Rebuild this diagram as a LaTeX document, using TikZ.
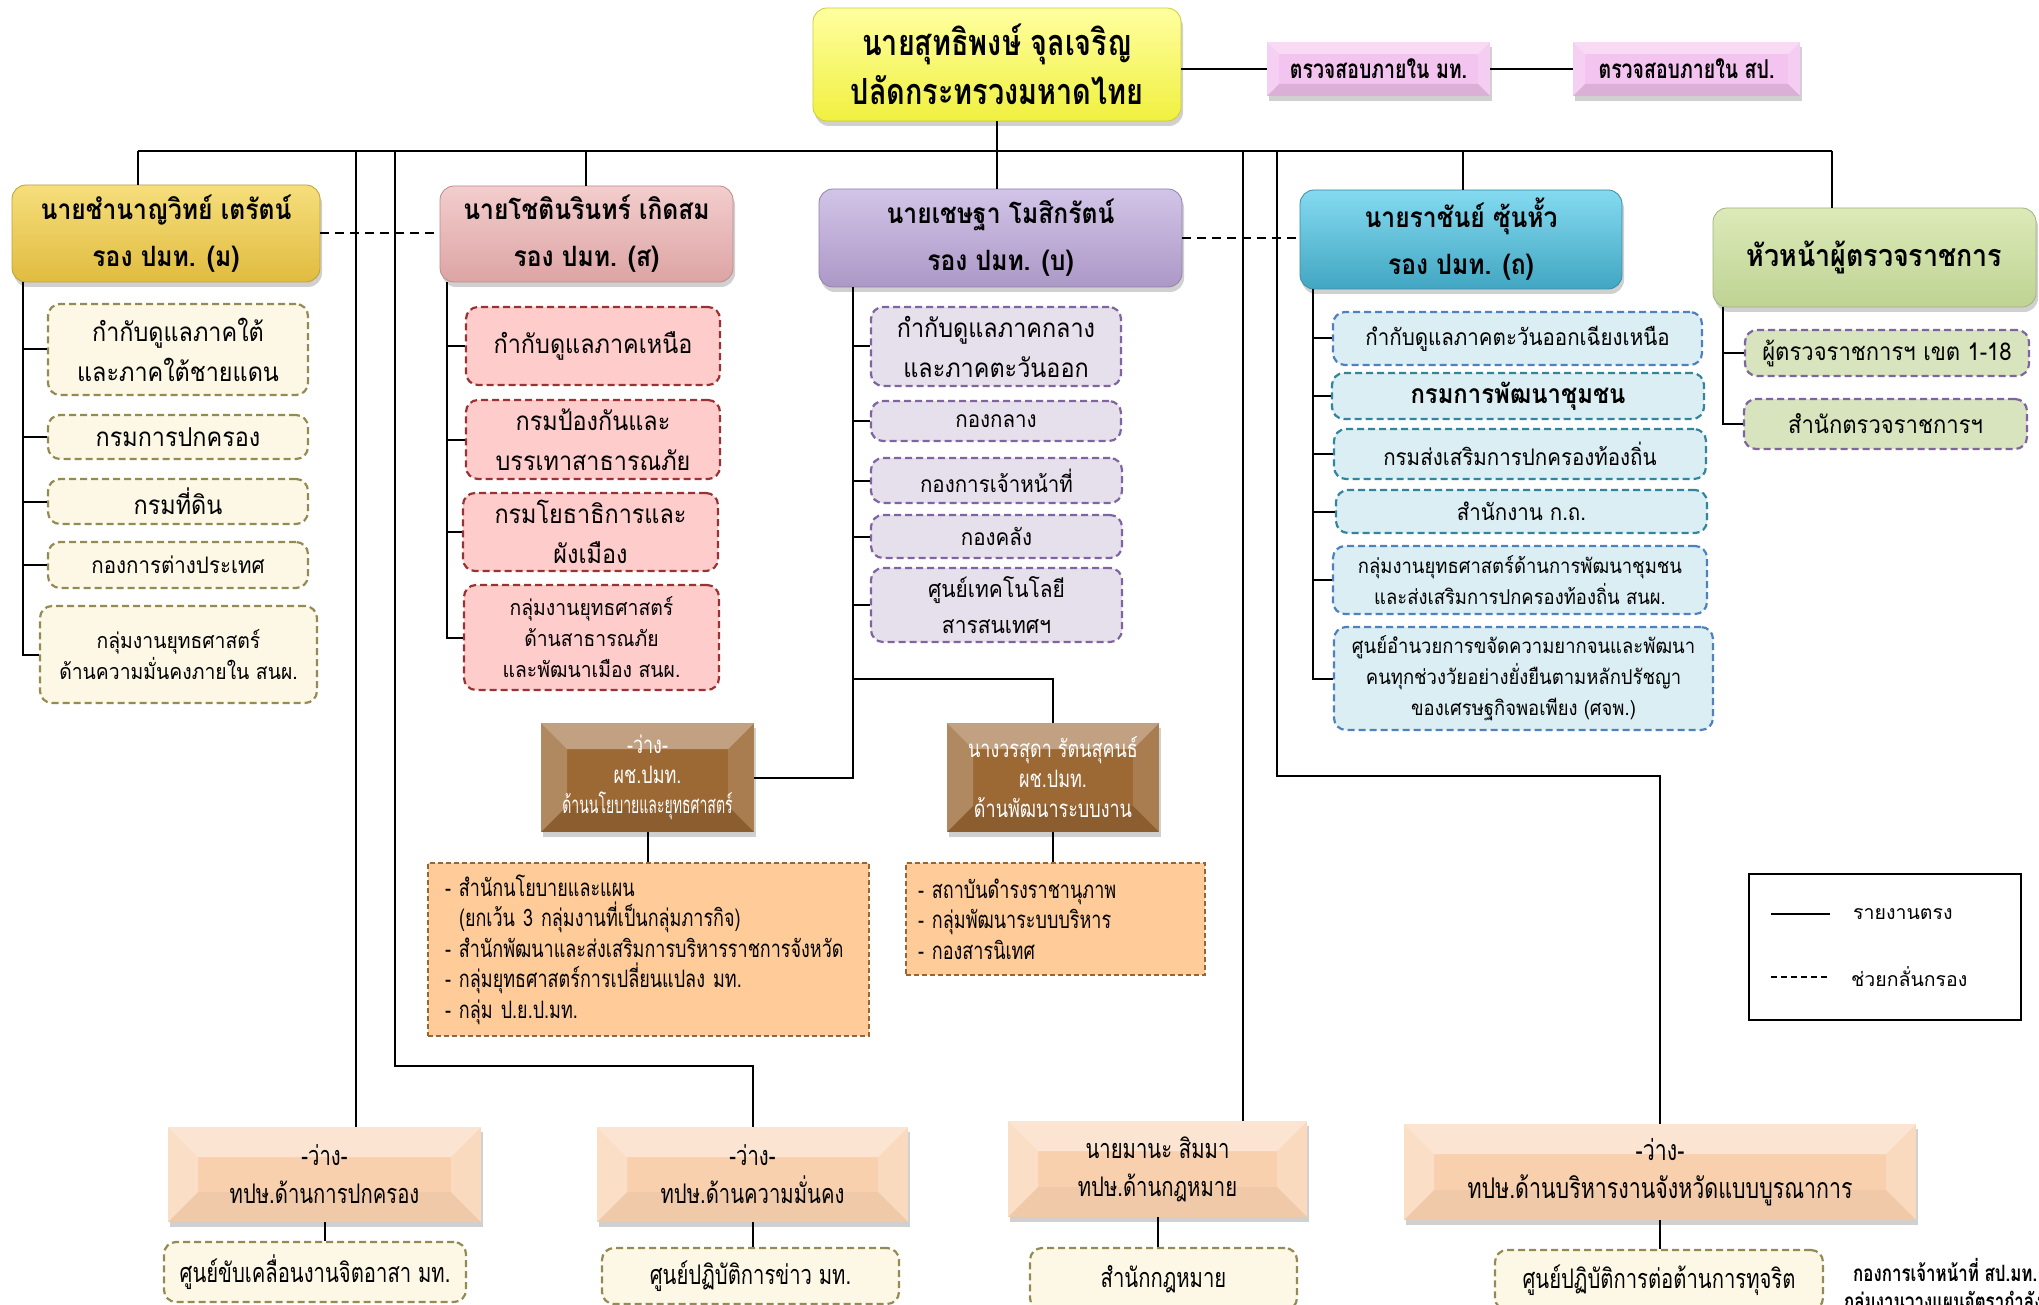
\documentclass[tikz,border=0pt]{standalone}
\usepackage{fontspec}
\usepackage{graphicx}
\setmainfont[Script=Thai]{Loma}
\newfontfamily\cnd[Script=Thai,FakeStretch=0.75]{Loma}
\newfontfamily\hdf[Script=Thai,FakeStretch=0.88]{Loma}
\newfontfamily\topf[Script=Thai,FakeStretch=0.8]{Loma}
\newfontfamily\chf[Script=Thai,FakeStretch=0.9]{Loma}
\usetikzlibrary{shadows,calc}

\definecolor{ylT}{HTML}{FFFFA0}\definecolor{ylB}{HTML}{F0F040}
\definecolor{gdT}{HTML}{F6DE7C}\definecolor{gdB}{HTML}{E0BC40}
\definecolor{pkT}{HTML}{F3CDCD}\definecolor{pkB}{HTML}{DDA4A4}
\definecolor{puT}{HTML}{D2C4E8}\definecolor{puB}{HTML}{AC98C6}
\definecolor{tlT}{HTML}{84DAF0}\definecolor{tlB}{HTML}{42A6C2}
\definecolor{grT}{HTML}{DCEAB8}\definecolor{grB}{HTML}{BFD394}
\definecolor{mg}{HTML}{F4C4F0}
\definecolor{brn}{HTML}{9C6834}
\definecolor{pch}{HTML}{F8D0AE}
\definecolor{org}{HTML}{FFCC99}
\definecolor{orgD}{HTML}{996633}
\definecolor{crm}{HTML}{FDF8E6}\definecolor{olv}{HTML}{948A54}
\definecolor{rosF}{HTML}{FFCCCC}\definecolor{rosD}{HTML}{993333}
\definecolor{lavF}{HTML}{E6E0EC}\definecolor{lavD}{HTML}{8064A2}
\definecolor{aqF}{HTML}{DAEEF3}\definecolor{bluD}{HTML}{4F81BD}\definecolor{tqD}{HTML}{31859C}
\definecolor{lgF}{HTML}{D7E4BD}

\newcommand\fTop{\topf\bfseries\fontsize{36}{49}\selectfont}
\newcommand\fHd{\hdf\bfseries\fontsize{28}{47}\selectfont}
\newcommand\fMt{\cnd\bfseries\fontsize{26}{30}\selectfont}
\newcommand\fBig{\chf\fontsize{26}{40}\selectfont}
\newcommand\fMid{\chf\fontsize{22.8}{31}\selectfont}
\newcommand\fMidS{\chf\fontsize{21.5}{31}\selectfont}
\newcommand\fSm{\chf\fontsize{20.5}{31}\selectfont}
\newcommand\fSub{\chf\fontsize{23.3}{36}\selectfont}
\newcommand\fGr{\chf\fontsize{24.5}{30}\selectfont}
\newcommand\fPc{\cnd\fontsize{24}{30}\selectfont}
\newcommand\fOr{\cnd\fontsize{24}{30.5}\selectfont}
\newcommand\fTp{\cnd\fontsize{27}{38}\selectfont}
\newcommand\fTc{\cnd\fontsize{27}{30}\selectfont}
\newcommand\fLg{\fontsize{19.5}{24}\selectfont}
\newcommand\fNt{\cnd\bfseries\fontsize{22.5}{26}\selectfont}

\newcommand\obox[7]{\node[#1, minimum width={(#5-#3)*1pt}, minimum height={(#6-#4)*1pt}] (#2) at ({(#3+#5)/2},{(#4+#6)/2}) {#7};}

\tikzset{
  nbase/.style={inner sep=0pt, align=center},
  shd/.style={drop shadow={shadow xshift=2pt,shadow yshift=-5pt,opacity=.3,fill=black!60}},
  hdr/.style n args={2}{nbase, rounded corners=14pt, top color=#1, bottom color=#2, draw=#2!85!black, line width=0.8pt, shd, font=\fHd},
  chl/.style n args={2}{nbase, rounded corners=12pt, fill=#1, draw=#2, line width=2.2pt, dash pattern=on 7pt off 4pt},
  bev/.style={path picture={
    \path (path picture bounding box.north west) coordinate (bbnw)
          (path picture bounding box.north east) coordinate (bbne)
          (path picture bounding box.south west) coordinate (bbsw)
          (path picture bounding box.south east) coordinate (bbse);
    \fill[white,opacity=.38] (bbnw) -- (bbne) -- ([xshift=-#1,yshift=-#1]bbne) -- ([xshift=#1,yshift=-#1]bbnw) -- cycle;
    \fill[white,opacity=.22] (bbnw) -- ([xshift=#1,yshift=-#1]bbnw) -- ([xshift=#1,yshift=#1]bbsw) -- (bbsw) -- cycle;
    \fill[white,opacity=.14] (bbne) -- ([xshift=-#1,yshift=-#1]bbne) -- ([xshift=-#1,yshift=#1]bbse) -- (bbse) -- cycle;
    \fill[black,opacity=.10] (bbsw) -- ([xshift=#1,yshift=#1]bbsw) -- ([xshift=-#1,yshift=#1]bbse) -- (bbse) -- cycle;
  }},
  bevl/.style={path picture={
    \path (path picture bounding box.north west) coordinate (bbnw)
          (path picture bounding box.north east) coordinate (bbne)
          (path picture bounding box.south west) coordinate (bbsw)
          (path picture bounding box.south east) coordinate (bbse);
    \fill[white,opacity=.45] (bbnw) -- (bbne) -- ([xshift=-#1,yshift=-#1]bbne) -- ([xshift=#1,yshift=-#1]bbnw) -- cycle;
    \fill[white,opacity=.30] (bbnw) -- ([xshift=#1,yshift=-#1]bbnw) -- ([xshift=#1,yshift=#1]bbsw) -- (bbsw) -- cycle;
    \fill[white,opacity=.22] (bbne) -- ([xshift=-#1,yshift=-#1]bbne) -- ([xshift=-#1,yshift=#1]bbse) -- (bbse) -- cycle;
    \fill[black,opacity=.03] (bbsw) -- ([xshift=#1,yshift=#1]bbsw) -- ([xshift=-#1,yshift=#1]bbse) -- (bbse) -- cycle;
  }},
  conn/.style={line width=2pt, black},
  dconn/.style={line width=2pt, black, dash pattern=on 9pt off 6pt},
}

\begin{document}
\begin{tikzpicture}[x=1pt,y=-1pt]
\fill[white] (0,0) rectangle (2039,1305);
\useasboundingbox (0,0) rectangle (2039,1305);
\clip (0,0) rectangle (2039,1305);

% ---------- top ----------
\obox{nbase, rounded corners=14pt, top color=ylT, bottom color=ylB, draw=ylB!85!black, line width=0.8pt, shd, font=\fTop}{ps}{813}{8}{1181}{121}{นายสุทธิพงษ์ จุลเจริญ\\ปลัดกระทรวงมหาดไทย}
\obox{nbase, fill=mg, bev=12pt, shd, font=\fMt}{mt1}{1267}{42}{1490}{96}{ตรวจสอบภายใน มท.}
\obox{nbase, fill=mg, bev=12pt, shd, font=\fMt}{mt2}{1573}{42}{1800}{96}{ตรวจสอบภายใน สป.}

% ---------- deputies ----------
\obox{hdr={gdT}{gdB}}{b1}{12}{185}{320}{282}{นายชำนาญวิทย์ เตรัตน์\\รอง ปมท. (ม)}
\obox{hdr={pkT}{pkB}}{b2}{440}{186}{733}{282}{นายโชตินรินทร์ เกิดสม\\รอง ปมท. (ส)}
\obox{hdr={puT}{puB}}{b3}{819}{189}{1182}{287}{นายเชษฐา โมสิกรัตน์\\รอง ปมท. (บ)}
\obox{hdr={tlT}{tlB}}{b4}{1300}{190}{1622}{289}{นายราชันย์ ซุ้นหั้ว\\รอง ปมท. (ถ)}
\obox{hdr={grT}{grB}, font=\hdf\bfseries\fontsize{30.5}{40}\selectfont}{b5}{1713}{208}{2036}{307}{หัวหน้าผู้ตรวจราชการ}

% ---------- box 1 children ----------
\obox{chl={crm}{olv}, font=\fBig}{b1c1}{48}{304}{308}{395}{กำกับดูแลภาคใต้\\และภาคใต้ชายแดน}
\obox{chl={crm}{olv}, font=\fBig}{b1c2}{48}{415}{308}{459}{กรมการปกครอง}
\obox{chl={crm}{olv}, font=\fBig}{b1c3}{48}{479}{308}{524}{กรมที่ดิน}
\obox{chl={crm}{olv}, font=\fMid}{b1c4}{48}{542}{308}{588}{กองการต่างประเทศ}
\obox{chl={crm}{olv}, font=\fMidS}{b1c5}{40}{606}{317}{703}{กลุ่มงานยุทธศาสตร์\\ด้านความมั่นคงภายใน สนผ.}

% ---------- box 2 children ----------
\obox{chl={rosF}{rosD}, font=\fBig}{b2c1}{466}{307}{720}{385}{กำกับดูแลภาคเหนือ}
\obox{chl={rosF}{rosD}, font=\fBig}{b2c2}{466}{400}{720}{479}{กรมป้องกันและ\\บรรเทาสาธารณภัย}
\obox{chl={rosF}{rosD}, font=\fBig}{b2c3}{463}{493}{718}{571}{กรมโยธาธิการและ\\ผังเมือง}
\obox{chl={rosF}{rosD}, font=\fMidS}{b2c4}{464}{585}{719}{690}{กลุ่มงานยุทธศาสตร์\\ด้านสาธารณภัย\\และพัฒนาเมือง สนผ.}

% ---------- box 3 children ----------
\obox{chl={lavF}{lavD}, font=\fBig}{b3c1}{871}{307}{1121}{386}{กำกับดูแลภาคกลาง\\และภาคตะวันออก}
\obox{chl={lavF}{lavD}, font=\fMid}{b3c2}{871}{401}{1121}{441}{กองกลาง}
\obox{chl={lavF}{lavD}, font=\fMid}{b3c3}{871}{458}{1122}{503}{กองการเจ้าหน้าที่}
\obox{chl={lavF}{lavD}, font=\fMid}{b3c4}{871}{515}{1122}{558}{กองคลัง}
\obox{chl={lavF}{lavD}, font=\fSub}{b3c5}{871}{568}{1122}{642}{ศูนย์เทคโนโลยี\\สารสนเทศฯ}

% ---------- box 4 children ----------
\obox{chl={aqF}{bluD}, font=\fMid}{b4c1}{1333}{312}{1702}{365}{กำกับดูแลภาคตะวันออกเฉียงเหนือ}
\obox{chl={aqF}{tqD}, font=\chf\bfseries\fontsize{26.5}{30}\selectfont}{b4c2}{1332}{373}{1704}{419}{กรมการพัฒนาชุมชน}
\obox{chl={aqF}{tqD}, font=\fMid}{b4c3}{1334}{429}{1706}{479}{กรมส่งเสริมการปกครองท้องถิ่น}
\obox{chl={aqF}{tqD}, font=\fMid}{b4c4}{1336}{490}{1707}{533}{สำนักงาน ก.ถ.}
\obox{chl={aqF}{bluD}, font=\fSm}{b4c5}{1333}{546}{1707}{614}{กลุ่มงานยุทธศาสตร์ด้านการพัฒนาชุมชน\\และส่งเสริมการปกครองท้องถิ่น สนผ.}
\obox{chl={aqF}{bluD}, font=\fSm}{b4c6}{1334}{627}{1713}{730}{ศูนย์อำนวยการขจัดความยากจนและพัฒนา\\คนทุกช่วงวัยอย่างยั่งยืนตามหลักปรัชญา\\ของเศรษฐกิจพอเพียง (ศจพ.)}

% ---------- box 5 children ----------
\obox{chl={lgF}{lavD}, font=\fGr}{b5c1}{1745}{330}{2029}{376}{ผู้ตรวจราชการฯ เขต 1-18}
\obox{chl={lgF}{lavD}, font=\fGr}{b5c2}{1744}{399}{2027}{449}{สำนักตรวจราชการฯ}

% ---------- assistants ----------
\obox{nbase, fill=brn, bev=26pt, shd, text=white, font=\fPc}{p1}{541}{723}{754}{832}{-ว่าง-\\ผช.ปมท.\\\scalebox{0.78}[1]{ด้านนโยบายและยุทธศาสตร์}}
\obox{nbase, fill=brn, bev=26pt, shd, text=white, font=\fPc}{p2}{947}{723}{1159}{832}{นางวรสุดา รัตนสุคนธ์\\ผช.ปมท.\\ด้านพัฒนาระบบงาน}
\obox{nbase, align=left, inner xsep=17pt, text width=407pt, fill=org, draw=orgD, line width=1.6pt, dash pattern=on 5pt off 3pt, font=\fOr}{o1}{428}{863}{869}{1036}{- สำนักนโยบายและแผน\\\hspace*{14pt}(ยกเว้น 3 กลุ่มงานที่เป็นกลุ่มภารกิจ)\\- สำนักพัฒนาและส่งเสริมการบริหารราชการจังหวัด\\- กลุ่มยุทธศาสตร์การเปลี่ยนแปลง มท.\\- กลุ่ม ป.ย.ป.มท.}
\obox{nbase, align=left, inner xsep=12pt, text width=275pt, fill=org, draw=orgD, line width=1.6pt, dash pattern=on 5pt off 3pt, font=\fOr}{o2}{906}{863}{1205}{975}{- สถาบันดำรงราชานุภาพ\\- กลุ่มพัฒนาระบบบริหาร\\- กองสารนิเทศ}

% ---------- advisers ----------
\obox{nbase, fill=pch, bevl=30pt, shd, font=\fTp}{tp1}{168}{1127}{481}{1222}{-ว่าง-\\ทปษ.ด้านการปกครอง}
\obox{nbase, fill=pch, bevl=30pt, shd, font=\fTp}{tp2}{597}{1127}{908}{1222}{-ว่าง-\\ทปษ.ด้านความมั่นคง}
\obox{nbase, fill=pch, bevl=30pt, shd, font=\fTp}{tp3}{1008}{1121}{1307}{1217}{นายมานะ สิมมา\\ทปษ.ด้านกฎหมาย}
\obox{nbase, fill=pch, bevl=30pt, shd, font=\cnd\fontsize{28.5}{38}\selectfont}{tp4}{1404}{1124}{1916}{1220}{-ว่าง-\\ทปษ.ด้านบริหารงานจังหวัดแบบบูรณาการ}
\obox{chl={crm}{olv}, font=\fTc}{tp1c}{164}{1242}{466}{1302}{ศูนย์ขับเคลื่อนงานจิตอาสา มท.}
\obox{chl={crm}{olv}, font=\fTc}{tp2c}{602}{1248}{899}{1304}{ศูนย์ปฏิบัติการข่าว มท.}
\obox{chl={crm}{olv}, font=\fTc}{tp3c}{1030}{1248}{1297}{1310}{สำนักกฎหมาย}
\obox{chl={crm}{olv}, font=\fTc}{tp4c}{1495}{1250}{1823}{1310}{ศูนย์ปฏิบัติการต่อต้านการทุจริต}

\node[anchor=west, inner sep=0pt, font=\fNt] (nt1) at (1853,1270) {กองการเจ้าหน้าที่ สป.มท.};
\node[anchor=west, inner sep=0pt, font=\fNt] (nt2) at (1844,1303) {กลุ่มงานวางแผนอัตรากำลัง};

% ---------- legend ----------
\obox{nbase, draw=black, line width=1.8pt}{lg}{1749}{874}{2021}{1020}{}
\coordinate (lgA) at (1771,914); \coordinate (lgB) at (1830,914);
\coordinate (lgC) at (1771,977); \coordinate (lgD) at (1830,977);
\draw[line width=1.8pt] (lgA) -- (lgB);
\draw[line width=1.8pt, dash pattern=on 6pt off 4pt] (lgC) -- (lgD);
\node[anchor=west, inner sep=0pt, font=\fLg] (lgt1) at (1853,914) {รายงานตรง};
\node[anchor=west, inner sep=0pt, font=\fLg] (lgt2) at (1851,977) {ช่วยกลั่นกรอง};

% ---------- connectors ----------
\coordinate (busL) at (138,151); \coordinate (busR) at (1832,151);
\coordinate (d2) at (586,151); \coordinate (d4) at (1463,151);
\coordinate (vA) at (356,151); \coordinate (vB) at (395,151);
\coordinate (vC) at (1243,151); \coordinate (vD) at (1277,151);
\coordinate (kB) at (752.5,1066); \coordinate (kD) at (1660,776);
\coordinate (s1) at (23,282); \coordinate (s2) at (447,282);
\coordinate (s3) at (853,287); \coordinate (j3) at (853,679);
\coordinate (s4) at (1313,289); \coordinate (s5) at (1723,307);

\draw[conn] (ps.south) -- (ps.south |- busL);
\draw[conn] (busL) -- (busR);
\draw[conn] (mt1.west -| ps.east) -- (mt1.west);
\draw[conn] (mt1.east) -- (mt2.west);
\draw[conn] (busL) -- (busL |- b1.north);
\draw[conn] (d2) -- (d2 |- b2.north);
\draw[conn] (ps.south |- busL) -- (ps.south |- b3.north);
\draw[conn] (d4) -- (d4 |- b4.north);
\draw[conn] (busR) -- (busR |- b5.north);
\draw[conn] (vA) -- (vA |- tp1.north);
\draw[conn] (vB) |- (kB) -- (tp2.north);
\draw[conn] (vC) -- (vC |- tp3.north);
\draw[conn] (vD) |- (kD) -- (tp4.north);

\draw[dconn] (b1.east) -- (b1.east -| b2.west);
\draw[dconn] (b3.east) -- (b3.east -| b4.west);

\draw[conn] (s1) |- (b1c5.west);
\foreach \c in {b1c1,b1c2,b1c3,b1c4} \draw[conn] (\c.west) -- (\c.west -| s1);
\draw[conn] (s2) |- (b2c4.west);
\foreach \c in {b2c1,b2c2,b2c3} \draw[conn] (\c.west) -- (\c.west -| s2);
\draw[conn] (s3) |- (p1.east);
\foreach \c in {b3c1,b3c2,b3c3,b3c4,b3c5} \draw[conn] (\c.west) -- (\c.west -| s3);
\draw[conn] (p2.north) |- (j3);
\draw[conn] (s4) |- (b4c6.west);
\foreach \c in {b4c1,b4c2,b4c3,b4c4,b4c5} \draw[conn] (\c.west) -- (\c.west -| s4);
\draw[conn] (s5) |- (b5c2.west);
\draw[conn] (b5c1.west) -- (b5c1.west -| s5);

\draw[conn] (p1.south) -- (p1.south |- o1.north);
\draw[conn] (p2.south) -- (p2.south |- o2.north);
\draw[conn] (tp1.south) -- (tp1.south |- tp1c.north);
\draw[conn] (tp2.south) -- (tp2.south |- tp2c.north);
\draw[conn] (tp3.south) -- (tp3.south |- tp3c.north);
\draw[conn] (tp4.south) -- (tp4.south |- tp4c.north);
\end{tikzpicture}
\end{document}
